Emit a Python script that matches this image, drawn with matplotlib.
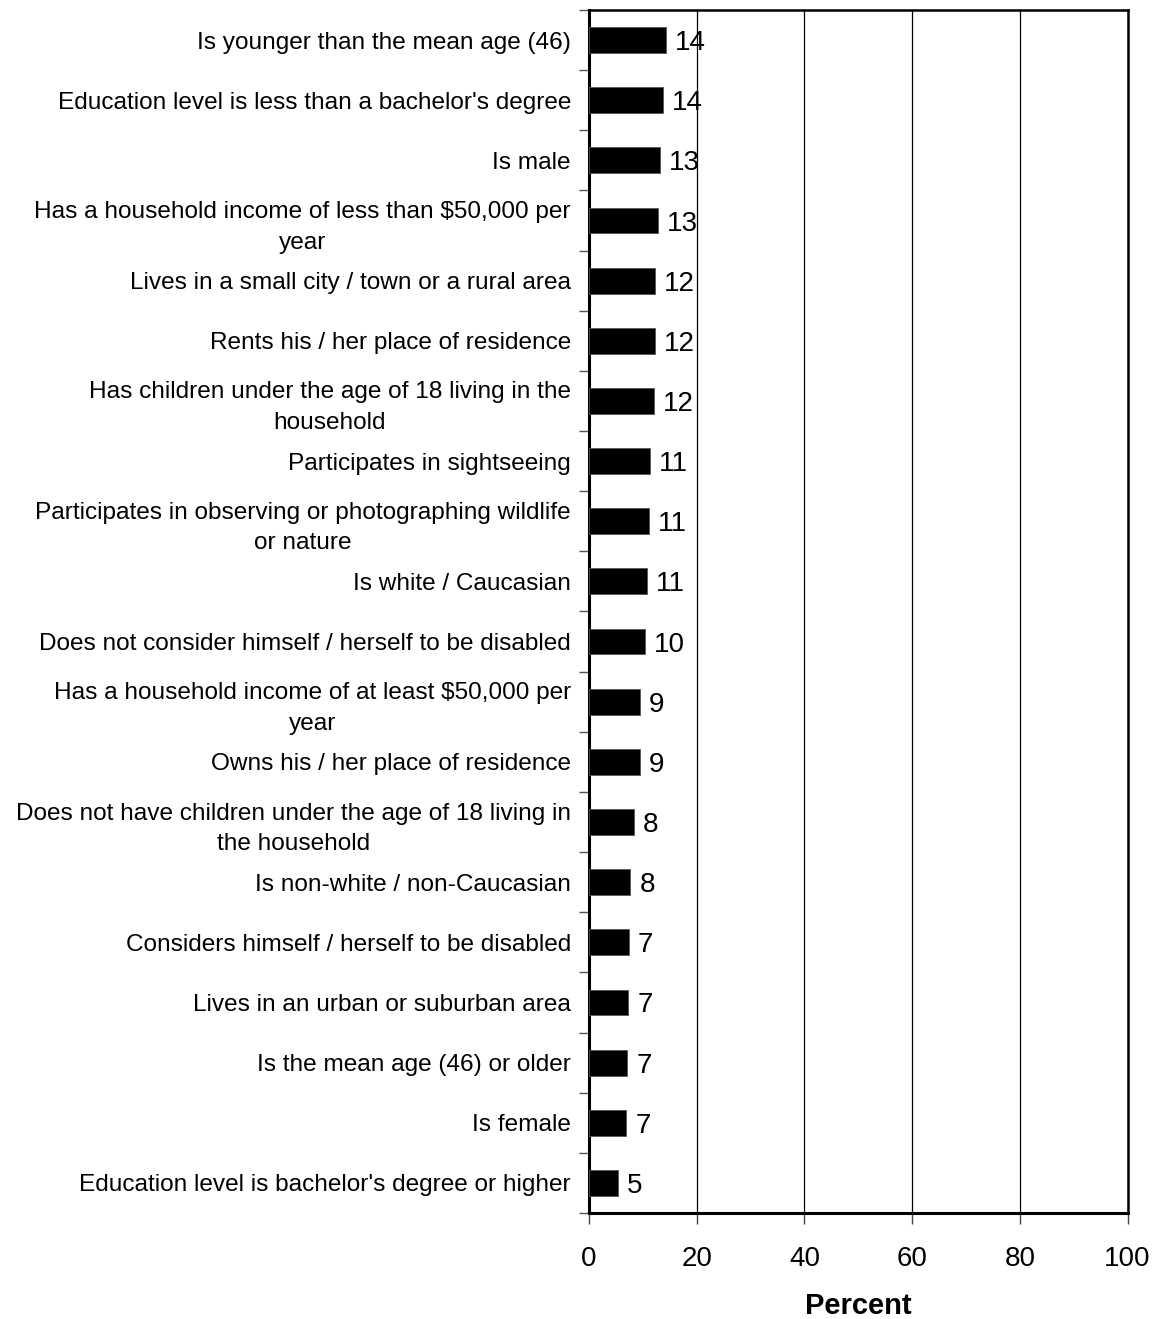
import matplotlib
matplotlib.use("Agg")
import matplotlib.pyplot as plt
from matplotlib.ticker import FixedLocator

plt.rcParams['font.family'] = ['Liberation Sans', 'DejaVu Sans']

categories = [
    "Is younger than the mean age (46)",
    "Education level is less than a bachelor's degree",
    "Is male",
    "Has a household income of less than $50,000 per\nyear",
    "Lives in a small city / town or a rural area",
    "Rents his / her place of residence",
    "Has children under the age of 18 living in the\nhousehold",
    "Participates in sightseeing",
    "Participates in observing or photographing wildlife\nor nature",
    "Is white / Caucasian",
    "Does not consider himself / herself to be disabled",
    "Has a household income of at least $50,000 per\nyear",
    "Owns his / her place of residence",
    "Does not have children under the age of 18 living in\nthe household",
    "Is non-white / non-Caucasian",
    "Considers himself / herself to be disabled",
    "Lives in an urban or suburban area",
    "Is the mean age (46) or older",
    "Is female",
    "Education level is bachelor's degree or higher",
]
percent = [14.3, 13.7, 13.2, 12.8, 12.3, 12.3, 12.1, 11.3, 11.2, 10.7,
           10.4, 9.4, 9.4, 8.4, 7.7, 7.4, 7.3, 7.1, 6.9, 5.3]
x_ticks = [0, 20, 40, 60, 80, 100]

fig = plt.figure(figsize=(11.58, 13.19), dpi=100)
ax = fig.add_axes([0.5086, 0.0804, 0.4651, 0.912])

n = len(categories)
ypos = list(range(n))
ax.barh(ypos, percent, height=0.43, color='black', edgecolor='#555555',
        linewidth=0.6, zorder=3)

for y, v in zip(ypos, percent):
    ax.annotate(f"{v:.0f}", xy=(v, y), xytext=(6.5, 0), textcoords='offset points',
                va='center_baseline', ha='left', fontsize=20, color='black', zorder=4)

ax.set_xlim(0, 100)
ax.set_ylim(n - 0.5, -0.5)

ax.set_xticks(x_ticks)
ax.set_xticklabels([str(t) for t in x_ticks], fontsize=20)
ax.tick_params(axis='x', direction='out', length=8, width=1, color='#444444', pad=16)

ax.set_yticks(ypos)
ax.set_yticklabels(categories, fontsize=17.6, multialignment='center', linespacing=1.5)
ax.tick_params(axis='y', which='major', length=0, pad=13)
ax.yaxis.set_minor_locator(FixedLocator([i - 0.5 for i in range(n + 1)]))
ax.tick_params(axis='y', which='minor', direction='out', length=7, width=1, color='#555555')

ax.xaxis.grid(True, color='black', linewidth=0.9, zorder=0)
ax.set_axisbelow(True)

for side in ['left', 'bottom']:
    ax.spines[side].set_linewidth(2.2)
for side in ['top', 'right']:
    ax.spines[side].set_linewidth(1.8)

ax.set_xlabel("Percent", fontsize=21, fontweight='bold', labelpad=14)

fig.savefig("out.png", dpi=100, facecolor='white')
